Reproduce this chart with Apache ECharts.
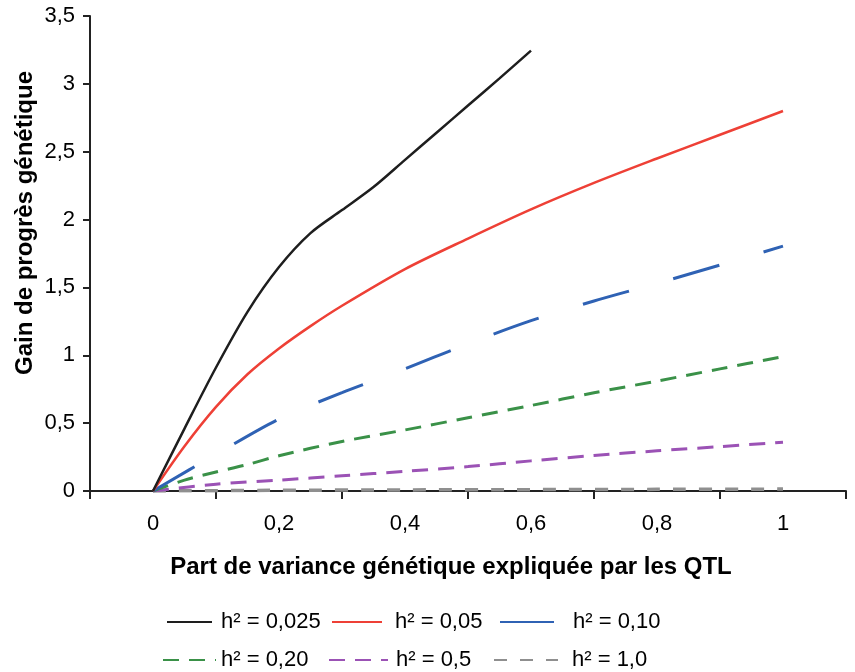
<!DOCTYPE html>
<html>
<head>
<meta charset="utf-8">
<script src="https://cdn.jsdelivr.net/npm/echarts@6/dist/echarts.min.js"></script>
<style>
html,body{margin:0;padding:0;background:#fff;}
#chart{width:855px;height:672px;}
</style>
</head>
<body>
<div id="chart"></div>
<script>
// ---- data ----
const xTickLabels = ['0', '0,2', '0,4', '0,6', '0,8', '1'];
const yTicks = [0, 0.5, 1, 1.5, 2, 2.5, 3, 3.5];

const seriesNames = ['h² = 0,025', 'h² = 0,05', 'h² = 0,10', 'h² = 0,20', 'h² = 0,5', 'h² = 1,0'];

const xBlack = [0, 0.05, 0.1, 0.15, 0.2, 0.25, 0.3, 0.35, 0.4, 0.45, 0.5, 0.55, 0.6];
const yBlack = [0, 0.46, 0.91, 1.32, 1.65, 1.90, 2.07, 2.24, 2.44, 2.64, 2.84, 3.04, 3.245];

const xRed = [0, 0.05, 0.1, 0.15, 0.2, 0.25, 0.3, 0.4, 0.5, 0.6, 0.7, 0.8, 0.9, 1.0];
const yRed = [0, 0.33, 0.62, 0.86, 1.05, 1.215, 1.365, 1.635, 1.86, 2.075, 2.27, 2.45, 2.625, 2.80];

const xBlue = [0, 0.1, 0.2, 0.3, 0.4, 0.5, 0.6, 0.7, 0.8, 0.9, 1.0];
const yBlue = [0, 0.27, 0.53, 0.725, 0.90, 1.085, 1.255, 1.40, 1.53, 1.665, 1.804];

const xGreen = [0, 0.05, 0.1, 0.15, 0.2, 0.3, 0.4, 0.5, 0.6, 0.7, 0.8, 0.9, 1.0];
const yGreen = [0, 0.08, 0.14, 0.195, 0.26, 0.365, 0.45, 0.54, 0.63, 0.724, 0.81, 0.90, 0.99];

const xPurple = [0, 0.1, 0.2, 0.3, 0.4, 0.5, 0.6, 0.7, 0.8, 0.9, 1.0];
const yPurple = [0, 0.05, 0.08, 0.112, 0.145, 0.18, 0.222, 0.262, 0.296, 0.327, 0.36];

const xGrey = [0, 0.2, 0.4, 0.6, 0.8, 1.0];
const yGrey = [0, 0.005, 0.008, 0.010, 0.012, 0.014];

// ---- styling ----
const FONT = 'Liberation Sans, Arial, sans-serif';
const colors = ['#1e1e1e', '#ee4036', '#2f62b4', '#3a9148', '#9b52b5', '#8f8f8f'];
const widths = [2.5, 2.5, 3, 3, 3, 3.5];
const dashes = ['solid', 'solid', [48, 46], [16, 10], [16, 10], [13, 13]];
const xs = [xBlack, xRed, xBlue, xGreen, xPurple, xGrey];
const ys = [yBlack, yRed, yBlue, yGreen, yPurple, yGrey];

const pairs = (a, b) => a.map((v, i) => [v, b[i]]);

const series = seriesNames.map((n, i) => ({
  name: n,
  type: 'line',
  xAxisIndex: 0,
  yAxisIndex: 0,
  data: pairs(xs[i], ys[i]),
  smooth: 0.3,
  symbol: 'none',
  showSymbol: false,
  z: 10 - i,
  lineStyle: { color: colors[i], width: widths[i], type: dashes[i], cap: 'butt' },
  itemStyle: { color: colors[i] }
}));

// legend layout: [iconLeft, iconWidth, textPadLeft, centerY]
const legendPos = [
  [166, 45, 4, 622],
  [331, 50, 8, 622],
  [499, 54, 14, 622],
  [162, 53, 0, 660],
  [328, 59, 3, 660],
  [493, 64, 9, 660]
];

const legends = seriesNames.map((n, i) => ({
  data: [n],
  left: legendPos[i][0],
  top: legendPos[i][3] - 11,
  padding: 0,
  itemWidth: legendPos[i][1],
  itemHeight: 14,
  selectedMode: false,
  itemStyle: { opacity: 0, borderWidth: 0 },
  lineStyle: i === 2 ? { type: 'solid' } : {},
  textStyle: { fontFamily: FONT, fontSize: 22, color: '#000', padding: [0, 0, 0, legendPos[i][2]] }
}));

const chart = echarts.init(document.getElementById('chart'), null, { renderer: 'canvas' });
chart.setOption({
  backgroundColor: '#fff',
  animation: false,
  grid: { left: 90, right: 9, top: 16, bottom: 181, containLabel: false },
  xAxis: [
    { type: 'value', min: -0.1, max: 1.1, show: false },
    {
      type: 'category',
      data: xTickLabels,
      boundaryGap: true,
      position: 'bottom',
      axisLine: { show: true, onZero: false, lineStyle: { color: '#222', width: 2 } },
      axisTick: { show: true, length: 8, lineStyle: { color: '#222', width: 2 } },
      axisLabel: { fontFamily: FONT, fontSize: 22, color: '#000', margin: 22 },
      splitLine: { show: false }
    }
  ],
  yAxis: {
    type: 'value',
    min: yTicks[0],
    max: yTicks[yTicks.length - 1],
    interval: 0.5,
    axisLine: { show: true, onZero: false, lineStyle: { color: '#222', width: 2 } },
    axisTick: { show: true, length: 7, lineStyle: { color: '#222', width: 2 } },
    axisLabel: {
      fontFamily: FONT, fontSize: 22, color: '#000', margin: 15,
      formatter: v => String(v).replace('.', ',')
    },
    splitLine: { show: false }
  },
  legend: legends,
  graphic: [
    {
      type: 'text',
      x: 451, y: 567,
      style: {
        text: 'Part de variance génétique expliquée par les QTL',
        font: 'bold 24px ' + FONT,
        fill: '#000',
        align: 'center',
        verticalAlign: 'middle'
      }
    },
    {
      type: 'text',
      x: 25, y: 223,
      rotation: Math.PI / 2,
      style: {
        text: 'Gain de progrès génétique',
        font: 'bold 24px ' + FONT,
        fill: '#000',
        align: 'center',
        verticalAlign: 'middle'
      }
    }
  ],
  series: series
});
</script>
</body>
</html>
